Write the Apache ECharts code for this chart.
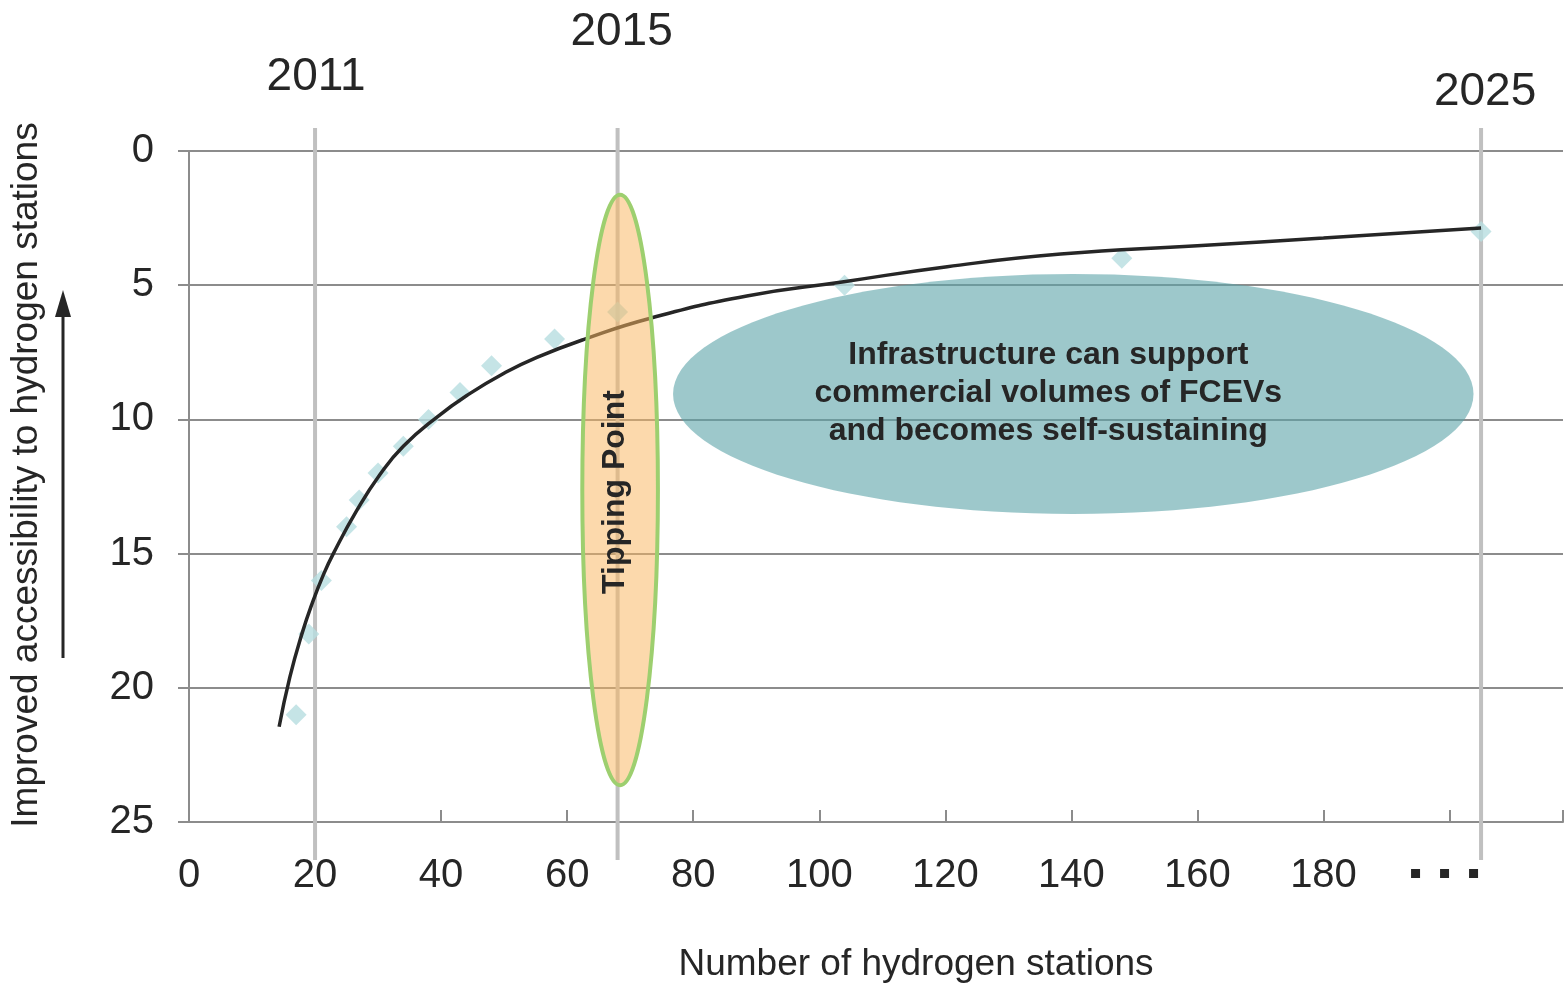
<!DOCTYPE html>
<html>
<head>
<meta charset="utf-8">
<title>Hydrogen stations tipping point</title>
<script src="https://cdn.jsdelivr.net/npm/echarts@6/dist/echarts.min.js"></script>
<style>
  html, body { margin: 0; padding: 0; background: #fff; }
  #main { width: 1564px; height: 983px; }
</style>
</head>
<body>
<div id="main"></div>
<script>
// observed points (diamonds)
const stationCounts = [17, 19, 21, 25, 27, 30, 34, 38, 43, 48, 58, 68, 104, 148, 205];
const accessibility = [21, 18, 16, 14, 13, 12, 11, 10, 9, 8, 7, 6, 5, 4, 3];

// trend curve
const trendX = [14.3, 16.0, 17.9, 19.7, 21.3, 22.9, 26.6, 30.3, 34, 39.3, 44.6, 49.9, 55.2, 62.9, 73.2, 88.5, 103.9, 120.3, 138.3, 160, 180, 205];
const trendY = [21.45, 19.6, 18.0, 16.75, 15.8, 15.0, 13.4, 12.05, 11.0, 9.92, 9.03, 8.29, 7.69, 7.0, 6.23, 5.4, 4.87, 4.31, 3.84, 3.53, 3.24, 2.87];

// year markers
const markerYears = ['2011', '2015', '2025'];
const markerStations = [20, 68, 205];

// highlighted zones: centre and half sizes in axis units
const zoneLabels = ['Tipping Point', 'Infrastructure can support\ncommercial volumes of FCEVs\nand becomes self-sustaining'];
const zoneCenterX = [68.4, 140.3];
const zoneCenterY = [12.63, 9.05];
const zoneHalfW = [6.0, 63.5];
const zoneHalfH = [11.0, 4.47];

// layout only
const markerLabelLift = [74, 119, 59];
const markerLabelShift = [1, 4, 4];

const textColor = '#262626';
const axisGray = '#8c8c8c';
const font = 'Liberation Sans, Arial, Helvetica, sans-serif';

let myChart = echarts.init(document.getElementById('main'));

function zoneRenderer(st) {
  return function (params, api) {
    const c = api.coord([api.value(0), api.value(1)]);
    const s = api.size([api.value(2), api.value(3)]);
    return {
      type: 'group',
      children: [
        {
          type: 'ellipse',
          shape: { cx: c[0], cy: c[1], rx: Math.abs(s[0]), ry: Math.abs(s[1]) },
          style: { fill: st.fill, stroke: st.stroke, lineWidth: st.lineWidth }
        },
        {
          type: 'text',
          x: c[0] + st.dx,
          y: c[1] + st.dy,
          rotation: st.rotation,
          style: {
            text: zoneLabels[st.idx],
            fill: textColor,
            font: 'bold ' + st.fontSize + 'px ' + font,
            lineHeight: st.lineHeight,
            align: 'center',
            verticalAlign: 'middle'
          }
        }
      ]
    };
  };
}

let option = {
  animation: false,
  textStyle: { fontFamily: font },
  grid: { left: 189, right: 1, top: 151, bottom: 161, containLabel: false, outerBoundsMode: 'none' },
  xAxis: {
    type: 'value',
    min: 0,
    max: 218,
    interval: 20,
    axisLine: { show: true, onZero: false, lineStyle: { color: axisGray, width: 2 } },
    axisTick: { show: true, inside: true, length: 12, lineStyle: { color: axisGray, width: 2 } },
    splitLine: { show: false },
    axisLabel: {
      fontSize: 40,
      color: textColor,
      margin: 34,
      formatter: function (v) {
        if (v === 200) return '{d| }{g| }{d| }{g| }{d| }{e| }';
        if (v % 20 === 0 && v <= 180) return String(v);
        return '';
      },
      rich: {
        d: { width: 9, height: 9, backgroundColor: textColor, verticalAlign: 'middle' },
        g: { width: 20, height: 35, verticalAlign: 'middle' },
        e: { width: 10, height: 35, verticalAlign: 'middle' }
      }
    },
    name: 'Number of hydrogen stations',
    nameLocation: 'middle',
    nameGap: 124,
    nameTextStyle: { fontSize: 37, color: textColor, padding: [0, 0, 0, 80] }
  },
  yAxis: {
    type: 'value',
    inverse: true,
    min: 0,
    max: 25,
    interval: 5,
    axisLine: { show: true, lineStyle: { color: axisGray, width: 2 } },
    axisTick: { show: true, length: 11, lineStyle: { color: axisGray, width: 2 } },
    splitLine: { show: true, lineStyle: { color: axisGray, width: 2 } },
    axisLabel: { fontSize: 40, color: textColor, margin: 35, padding: [4, 0, 0, 0] },
    name: 'Improved accessibility to hydrogen stations',
    nameLocation: 'middle',
    nameRotate: 90,
    nameGap: 144,
    nameTextStyle: { fontSize: 37, color: textColor, padding: [0, 0, 0, 23] }
  },
  graphic: [
    { type: 'line', shape: { x1: 63, y1: 658, x2: 63, y2: 312 }, style: { stroke: textColor, lineWidth: 3 } },
    { type: 'polygon', shape: { points: [[63, 290], [55, 317], [71, 317]] }, style: { fill: textColor } }
  ],
  series: [
    {
      name: 'years',
      type: 'custom',
      z: 1,
      silent: true,
      data: markerStations.map((x, i) => [x, i]),
      renderItem: function (params, api) {
        const i = api.value(1);
        const x = api.coord([api.value(0), 0])[0];
        const top = api.coord([0, 0])[1];
        const bottom = api.coord([0, 25])[1];
        return {
          type: 'group',
          children: [
            { type: 'line', shape: { x1: x, y1: top - 23, x2: x, y2: bottom + 38 }, style: { stroke: '#c0c0c0', lineWidth: 4 } },
            {
              type: 'text', x: x + markerLabelShift[i], y: top - markerLabelLift[i],
              style: { text: markerYears[i], fill: textColor, font: '46px ' + font, align: 'center', verticalAlign: 'middle' }
            }
          ]
        };
      }
    },
    {
      name: 'self-sustaining',
      type: 'custom',
      z: 2,
      silent: true,
      data: [[zoneCenterX[1], zoneCenterY[1], zoneHalfW[1], zoneHalfH[1]]],
      renderItem: zoneRenderer({ idx: 1, fill: 'rgba(92,163,168,0.6)', stroke: null, lineWidth: 0, dx: -25, dy: -1, rotation: 0, fontSize: 32, lineHeight: 38 })
    },
    {
      name: 'stations',
      type: 'scatter',
      z: 3,
      symbol: 'diamond',
      symbolSize: 21,
      itemStyle: { color: '#b6dde0' },
      data: stationCounts.map((x, i) => [x, accessibility[i]])
    },
    {
      name: 'trend',
      type: 'line',
      z: 4,
      smooth: 0.5,
      showSymbol: false,
      lineStyle: { color: textColor, width: 3.5 },
      data: trendX.map((x, i) => [x, trendY[i]])
    },
    {
      name: 'tipping',
      type: 'custom',
      z: 5,
      silent: true,
      data: [[zoneCenterX[0], zoneCenterY[0], zoneHalfW[0], zoneHalfH[0]]],
      renderItem: zoneRenderer({ idx: 0, fill: 'rgba(250,182,95,0.52)', stroke: '#9dcf6f', lineWidth: 4, dx: -5, dy: 2, rotation: Math.PI / 2, fontSize: 32, lineHeight: 34 })
    }
  ]
};

myChart.setOption(option);
</script>
</body>
</html>
